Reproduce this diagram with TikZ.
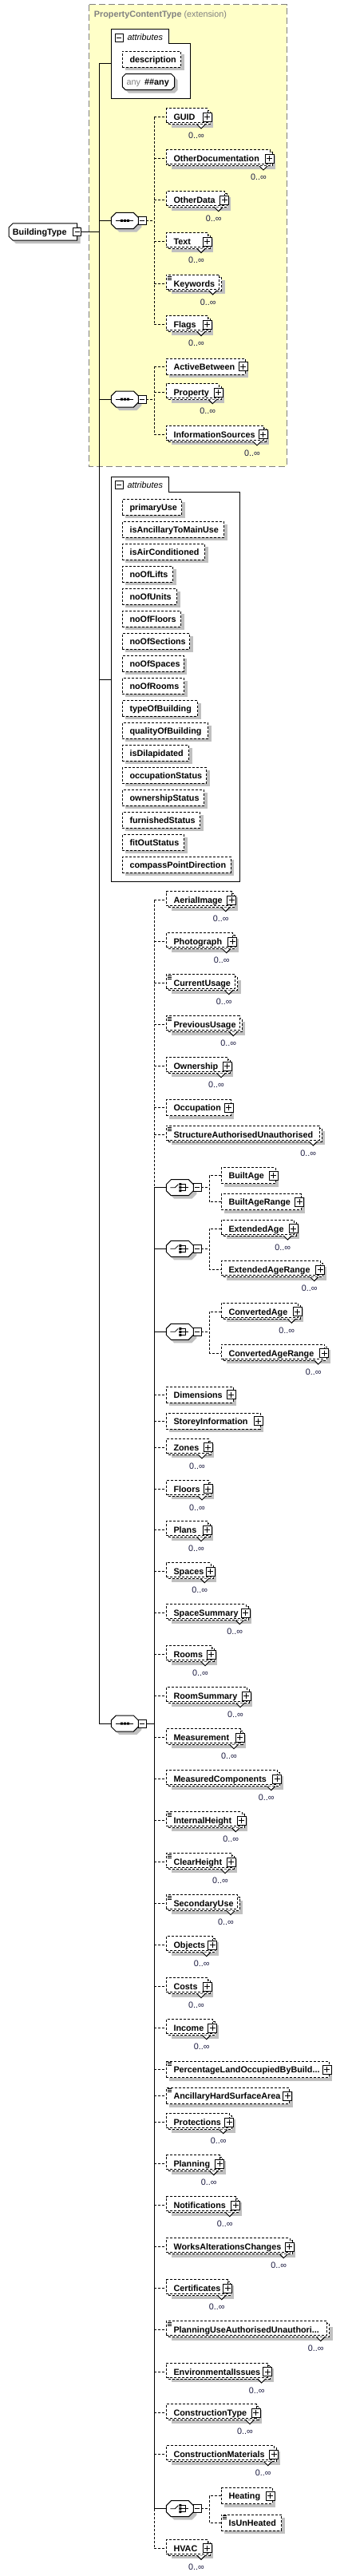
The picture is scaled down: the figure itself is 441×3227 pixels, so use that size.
\documentclass[tikz,border=0pt]{standalone}
\usepackage{fontspec}
\setmainfont{Liberation Sans}
\definecolor{shadowc}{HTML}{C0C0C0}
\definecolor{ylw}{HTML}{FFFFC8}
\definecolor{gry}{HTML}{808080}
\definecolor{multc}{HTML}{1A1A40}
\tikzset{
  ln/.style={line width=1pt, draw=black, solid},
  dl/.style={line width=1pt, draw=black, dash pattern=on 3pt off 2pt},
  ebox/.style={draw=black, fill=white, line width=1pt, dash pattern=on 3pt off 2pt, inner sep=0pt, outer sep=0pt},
  etext/.style={font=\fontsize{10.8}{12}\selectfont\bfseries, inner sep=0pt},
  mult/.style={font=\fontsize{10.8}{12}\selectfont, text=multc, inner sep=0pt},
  pmbox/.style={draw=black, fill=white, line width=1pt, solid, inner sep=0pt, outer sep=0pt},
}
\newcommand{\mkPlus}[3]{%
  \node[pmbox, minimum size=11pt] (#1) at ({#2},{#3}) {};
  \draw[ln] (#1.center) ++(-3.5,0) -- ++(7,0);
  \draw[ln] (#1.center) ++(0,-3.5) -- ++(0,7);
}
\newcommand{\mkMinus}[3]{%
  \node[pmbox, minimum size=10pt] (#1) at ({#2},{#3}) {};
  \draw[ln] (#1.center) ++(-3,0) -- ++(6,0);
}
\newcommand{\mkEq}[2]{%
  \draw[line width=0.6pt] ({#1+2},{#2-9}) -- ({#1+7},{#2-9}) ({#1+2},{#2-7}) -- ({#1+7},{#2-7}) ({#1+2},{#2-5}) -- ({#1+7},{#2-5});
}
% single element: name, x0, c, R, text
\newcommand{\mkS}[5]{%
  \fill[shadowc] ({#2+4},{#3-6}) rectangle ({#4+1},{#3+14});
  \node[ebox, minimum width={#4-3-(#2)}, minimum height=20pt, anchor=north west] (#1) at ({#2},{#3-10}) {};
  \coordinate (#1-in) at ({#2},{#3});
  \node[etext, anchor=base west] (#1-t) at ({#2+9},{#3+4}) {#5};
}
\newcommand{\mkSP}[5]{\mkS{#1}{#2}{#3}{#4}{#5}\mkPlus{#1-p}{#4-5.5}{#3}}
% repeated element
\newcommand{\mkR}[5]{%
  \fill[shadowc] ({#2+7},{#3-4}) rectangle ({#4+2},{#3+13});
  \node[ebox, minimum width={#4-5-(#2)}, minimum height=17pt, anchor=north west] (#1-b) at ({#2+3},{#3-8}) {};
  \node[ebox, minimum width={#4-5-(#2)}, minimum height=18pt, anchor=north west] (#1) at ({#2},{#3-11}) {};
  \draw[ln, fill=white] ({#4-18},{#3+9}) -- ({#4-13},{#3+14}) -- ({#4-8},{#3+9});
  \coordinate (#1-in) at ({#2},{#3});
  \node[etext, anchor=base west] (#1-t) at ({#2+9},{#3+4}) {#5};
  \node[mult, anchor=base east] (#1-m) at ({#4-9},{#3+27}) {0..∞};
}
\newcommand{\mkRP}[5]{\mkR{#1}{#2}{#3}{#4}{#5}\mkPlus{#1-p}{#4-5.5}{#3}}
% group octagon: name, x0, c
\newcommand{\mkGrp}[3]{%
  \fill[shadowc] ({#2+10},{#3-6}) -- ({#2+32},{#3-6}) -- ({#2+38},{#3}) -- ({#2+38},{#3+8}) -- ({#2+32},{#3+14}) -- ({#2+10},{#3+14}) -- ({#2+4},{#3+8}) -- ({#2+4},{#3}) -- cycle;
  \draw[ln, fill=white] ({#2+6},{#3-10}) -- ({#2+28},{#3-10}) -- ({#2+34},{#3-4}) -- ({#2+34},{#3+4}) -- ({#2+28},{#3+10}) -- ({#2+6},{#3+10}) -- ({#2},{#3+4}) -- ({#2},{#3-4}) -- cycle;
  \node[inner sep=0pt, outer sep=0pt, minimum width=34pt, minimum height=20pt, anchor=west] (#1) at ({#2},{#3}) {};
  \mkMinus{#1-m}{#2+39}{#3}
}
\newcommand{\mkSeqIcon}[2]{%
  \draw[line width=0.8pt] ({#1+6},{#2}) -- ({#1+28},{#2});
  \fill ({#1+11.5},{#2-1.5}) rectangle ({#1+14.5},{#2+1.5}) ({#1+15.5},{#2-1.5}) rectangle ({#1+18.5},{#2+1.5}) ({#1+19.5},{#2-1.5}) rectangle ({#1+22.5},{#2+1.5});
}
\newcommand{\mkChIcon}[2]{%
  \draw[line width=0.8pt] ({#1+5},{#2}) -- ({#1+11},{#2}) -- ({#1+15},{#2-4});
  \fill ({#1+16},{#2-5.5}) rectangle ({#1+19},{#2-2.5}) ({#1+16},{#2-1.5}) rectangle ({#1+19},{#2+1.5}) ({#1+16},{#2+2.5}) rectangle ({#1+19},{#2+5.5});
  \draw[line width=0.8pt] ({#1+19},{#2-4}) -- ({#1+24},{#2-4}) -- ({#1+24},{#2+4}) -- ({#1+19},{#2+4}) ({#1+19},{#2}) -- ({#1+28},{#2});
}
\begin{document}
\begin{tikzpicture}[x=1pt,y=-1pt]
\useasboundingbox (0,0) rectangle (441,3227);
\fill[white] (0,0) rectangle (441,3227);
% extension box
\draw[fill=ylw, draw=gry, line width=1pt, dash pattern=on 8pt off 4pt] (111.7,5.7) rectangle (359.3,584);
\node[anchor=base west, inner sep=0pt, text=gry, font=\fontsize{10.8}{12}\selectfont] (title) at (117.7,21.7) {\textbf{PropertyContentType} (extension)};
% attributes 1
\draw[ln, fill=white] (139.3,36.3) -- (211.3,36.3) -- (211.3,55) -- (238.3,55) -- (238.3,123.3) -- (139.3,123.3) -- cycle;
\mkMinus{att1-m}{149.3}{47.3}
\node[anchor=base west, inner sep=0pt, font=\fontsize{10.8}{12}\selectfont\itshape] (att1-t) at (159.3,51) {attributes};
\coordinate (att1) at (139.3,80);
\mkS{desc}{153.3}{74.3}{229.7}{description}
\fill[shadowc] (161.3,96.7) -- (218.7,96.7) -- (222.7,100.7) -- (222.7,112.7) -- (218.7,116.7) -- (161.3,116.7) -- (157.3,112.7) -- (157.3,100.7) -- cycle;
\draw[ln, fill=white] (157.3,92.7) -- (214.7,92.7) -- (218.7,96.7) -- (218.7,108.7) -- (214.7,112.7) -- (157.3,112.7) -- (153.3,108.7) -- (153.3,96.7) -- cycle;
\node[anchor=base west, inner sep=0pt, text=gry, font=\fontsize{10.8}{12}\selectfont] (any1) at (158.3,106.7) {any};
\node[etext, anchor=base west] (any2) at (181,106.7) {\#\#any};
% root
\fill[shadowc] (20,284) -- (100.7,284) -- (100.7,305) -- (20,305) -- (15,300) -- (15,289) -- cycle;
\draw[ln, fill=white] (16,280) -- (96.7,280) -- (96.7,301) -- (16,301) -- (11,296) -- (11,285) -- cycle;
\node[inner sep=0pt, outer sep=0pt, minimum width=85.7pt, minimum height=21pt, anchor=west] (BT) at (11,290.5) {};
\node[etext, anchor=base west] (BT-t) at (15.7,294.5) {BuildingType};
\mkMinus{BT-m}{96.7}{290.5}
% sequence 1
\mkGrp{seq1}{139.3}{276.5}\mkSeqIcon{139.3}{276.5}
\mkRP{GUID}{208.3}{147}{265}{GUID}
\mkRP{OtherDocumentation}{208.3}{199}{343}{OtherDocumentation}
\mkRP{OtherData}{208.3}{250.7}{286.7}{OtherData}
\mkRP{Text}{208.3}{302.7}{265}{Text}
\mkR{Keywords}{208.3}{355}{279.7}{Keywords}\mkEq{208.3}{355}
\mkRP{Flags}{208.3}{406.7}{265}{Flags}
\coordinate (b1t) at (193.3,147);
\coordinate (b1b) at (193.3,406.7);
\draw[dl] (b1t) -- (b1b);
\draw[dl] (seq1-m.east) -- (seq1-m.east -| b1t);
\foreach \n in {GUID,OtherDocumentation,OtherData,Text,Keywords,Flags} \draw[dl] (\n-in -| b1t) -- (\n-in);
% sequence 2
\mkGrp{seq2}{139.3}{500}\mkSeqIcon{139.3}{500}
\mkSP{ActiveBetween}{208.3}{459}{310}{ActiveBetween}
\mkRP{Property}{208.3}{491.7}{279.3}{Property}
\mkRP{InformationSources}{208.3}{544}{335}{InformationSources}
\coordinate (b2t) at (193.3,459);
\coordinate (b2b) at (193.3,544);
\draw[dl] (b2t) -- (b2b);
\draw[dl] (seq2-m.east) -- (seq2-m.east -| b2t);
\foreach \n in {ActiveBetween,Property,InformationSources} \draw[dl] (\n-in -| b2t) -- (\n-in);
% attributes 2
\draw[ln, fill=white] (139.3,597.3) -- (211.3,597.3) -- (211.3,616.3) -- (300.3,616.3) -- (300.3,1104) -- (139.3,1104) -- cycle;
\mkMinus{att2-m}{149.3}{607.7}
\node[anchor=base west, inner sep=0pt, font=\fontsize{10.8}{12}\selectfont\itshape] (att2-t) at (159.3,611.7) {attributes};
\coordinate (att2) at (139.3,851.7);
\mkS{a1}{153.3}{635.3}{230.7}{primaryUse}
\mkS{a2}{153.3}{663.3}{283.7}{isAncillaryToMainUse}
\mkS{a3}{153.3}{691.3}{259.7}{isAirConditioned}
\mkS{a4}{153.3}{719.3}{219.7}{noOfLifts}
\mkS{a5}{153.3}{747.3}{224.7}{noOfUnits}
\mkS{a6}{153.3}{775.3}{229.7}{noOfFloors}
\mkS{a7}{153.3}{803.3}{240.7}{noOfSections}
\mkS{a8}{153.3}{831.3}{233}{noOfSpaces}
\mkS{a9}{153.3}{859.3}{233.7}{noOfRooms}
\mkS{a10}{153.3}{887.3}{250.7}{typeOfBuilding}
\mkS{a11}{153.3}{915.3}{263.7}{qualityOfBuilding}
\mkS{a12}{153.3}{943.3}{239.7}{isDilapidated}
\mkS{a13}{153.3}{971.3}{261.7}{occupationStatus}
\mkS{a14}{153.3}{999.3}{258.7}{ownershipStatus}
\mkS{a15}{153.3}{1027.3}{253.7}{furnishedStatus}
\mkS{a16}{153.3}{1055.3}{233.7}{fitOutStatus}
\mkS{a17}{153.3}{1083.3}{292}{compassPointDirection}
% sequence 3
\mkGrp{seq3}{139.3}{2159}\mkSeqIcon{139.3}{2159}
\mkRP{AerialImage}{208.3}{1127.7}{295.7}{AerialImage}
\mkRP{Photograph}{208.3}{1179.7}{296.7}{Photograph}
\mkR{CurrentUsage}{208.3}{1231.7}{299.7}{CurrentUsage}\mkEq{208.3}{1231.7}
\mkR{PreviousUsage}{208.3}{1283.7}{305.3}{PreviousUsage}\mkEq{208.3}{1283.7}
\mkRP{Ownership}{208.3}{1335.7}{290}{Ownership}
\mkSP{Occupation}{208.3}{1387.7}{292.3}{Occupation}
\mkR{SAU}{208.3}{1421}{405.3}{StructureAuthorisedUnauthorised}\mkEq{208.3}{1421}
% choice 1
\mkGrp{ch1}{208.3}{1487.7}\mkChIcon{208.3}{1487.7}
\mkSP{BuiltAge}{277.3}{1472.7}{348.3}{BuiltAge}
\mkSP{BuiltAgeRange}{277.3}{1505.7}{380.7}{BuiltAgeRange}
% choice 2
\mkGrp{ch2}{208.3}{1564.3}\mkChIcon{208.3}{1564.3}
\mkRP{ExtendedAge}{277.3}{1539}{373.3}{ExtendedAge}
\mkRP{ExtendedAgeRange}{277.3}{1590.7}{406.7}{ExtendedAgeRange}
% choice 3
\mkGrp{ch3}{208.3}{1668.3}\mkChIcon{208.3}{1668.3}
\mkRP{ConvertedAge}{277.3}{1643.3}{378.3}{ConvertedAge}
\mkRP{ConvertedAgeRange}{277.3}{1695}{411.7}{ConvertedAgeRange}
\mkSP{Dimensions}{208.3}{1747}{295}{Dimensions}
\mkSP{StoreyInformation}{208.3}{1780}{329}{StoreyInformation}
\mkRP{Zones}{208.3}{1813}{266}{Zones}
\mkRP{Floors}{208.3}{1865}{266}{Floors}
\mkRP{Plans}{208.3}{1916.7}{265}{Plans}
\mkRP{Spaces}{208.3}{1968.7}{269.3}{Spaces}
\mkRP{SpaceSummary}{208.3}{2020.7}{313.3}{SpaceSummary}
\mkRP{Rooms}{208.3}{2072.7}{270}{Rooms}
\mkRP{RoomSummary}{208.3}{2124.7}{314}{RoomSummary}
\mkRP{Measurement}{208.3}{2176.7}{306}{Measurement}
\mkRP{MeasuredComponents}{208.3}{2228.7}{352.7}{MeasuredComponents}
\mkRP{InternalHeight}{208.3}{2280.7}{308.3}{InternalHeight}\mkEq{208.3}{2280.7}
\mkRP{ClearHeight}{208.3}{2332.7}{295}{ClearHeight}\mkEq{208.3}{2332.7}
\mkR{SecondaryUse}{208.3}{2384.7}{302}{SecondaryUse}\mkEq{208.3}{2384.7}
\mkRP{Objects}{208.3}{2436.7}{271.7}{Objects}
\mkRP{Costs}{208.3}{2488.7}{265}{Costs}
\mkRP{Income}{208.3}{2540.7}{271.7}{Income}
\mkSP{PLOB}{208.3}{2592.7}{415}{PercentageLandOccupiedByBuild...}\mkEq{208.3}{2592.7}
\mkSP{AHSA}{208.3}{2625.7}{365.7}{AncillaryHardSurfaceArea}\mkEq{208.3}{2625.7}
\mkRP{Protections}{208.3}{2658.7}{292.7}{Protections}
\mkRP{Planning}{208.3}{2710.7}{280.7}{Planning}
\mkRP{Notifications}{208.3}{2762.7}{300.7}{Notifications}
\mkRP{WAC}{208.3}{2814.7}{368.3}{WorksAlterationsChanges}
\mkRP{Certificates}{208.3}{2866.7}{290.7}{Certificates}
\mkR{PUAU}{208.3}{2918.7}{414.7}{PlanningUseAuthorisedUnauthori...}\mkEq{208.3}{2918.7}
\mkRP{EnvironmentalIssues}{208.3}{2971}{340.7}{EnvironmentalIssues}
\mkRP{ConstructionType}{208.3}{3022.7}{326}{ConstructionType}
\mkRP{ConstructionMaterials}{208.3}{3074.7}{348.7}{ConstructionMaterials}
% choice 4
\mkGrp{ch4}{208.3}{3142.7}\mkChIcon{208.3}{3142.7}
\mkSP{Heating}{277.3}{3126.7}{344}{Heating}
\mkS{IsUnHeated}{277.3}{3160}{355.7}{IsUnHeated}\mkEq{277.3}{3160}
\mkRP{HVAC}{208.3}{3192.3}{265}{HVAC}
% main bus
\coordinate (mtop) at (124.3,80);
\coordinate (mbot) at (124.3,2159);
\draw[ln] (att1) -- (mtop) -- (mbot) -- (seq3.west);
\draw[ln] (BT-m.east) -- (BT-m.east -| mtop);
\draw[ln] (seq1.west -| mtop) -- (seq1.west);
\draw[ln] (seq2.west -| mtop) -- (seq2.west);
\draw[ln] (att2 -| mtop) -- (att2);
% sequence 3 bus
\coordinate (b3a) at (193.3,1127.7);
\coordinate (b3c1) at (193.3,1487.7);
\coordinate (b3c4) at (193.3,3142.7);
\coordinate (b3z) at (193.3,3192.3);
\draw[dl] (b3a) -- (b3c1);
\draw[ln] (b3c1) -- (b3c4);
\draw[dl] (b3c4) -- (b3z);
\draw[ln] (seq3-m.east) -- (seq3-m.east -| b3a);
\foreach \n in {ch1,ch2,ch3,ch4} \draw[ln] (\n.west -| b3a) -- (\n.west);
\foreach \n in {AerialImage,Photograph,CurrentUsage,PreviousUsage,Ownership,Occupation,SAU,Dimensions,StoreyInformation,Zones,Floors,Plans,Spaces,SpaceSummary,Rooms,RoomSummary,Measurement,MeasuredComponents,InternalHeight,ClearHeight,SecondaryUse,Objects,Costs,Income,PLOB,AHSA,Protections,Planning,Notifications,WAC,Certificates,PUAU,EnvironmentalIssues,ConstructionType,ConstructionMaterials,HVAC} \draw[dl] (\n-in -| b3a) -- (\n-in);
% choice buses
\coordinate (cb) at (262.3,0);
\foreach \c/\a/\b in {ch1/BuiltAge/BuiltAgeRange,ch2/ExtendedAge/ExtendedAgeRange,ch3/ConvertedAge/ConvertedAgeRange,ch4/Heating/IsUnHeated}{
  \draw[dl] (\c-m.east) -- (\c-m.east -| cb);
  \draw[dl] (\a-in) -- (\a-in -| cb) -- (\b-in -| cb) -- (\b-in);
}
\end{tikzpicture}
\end{document}
